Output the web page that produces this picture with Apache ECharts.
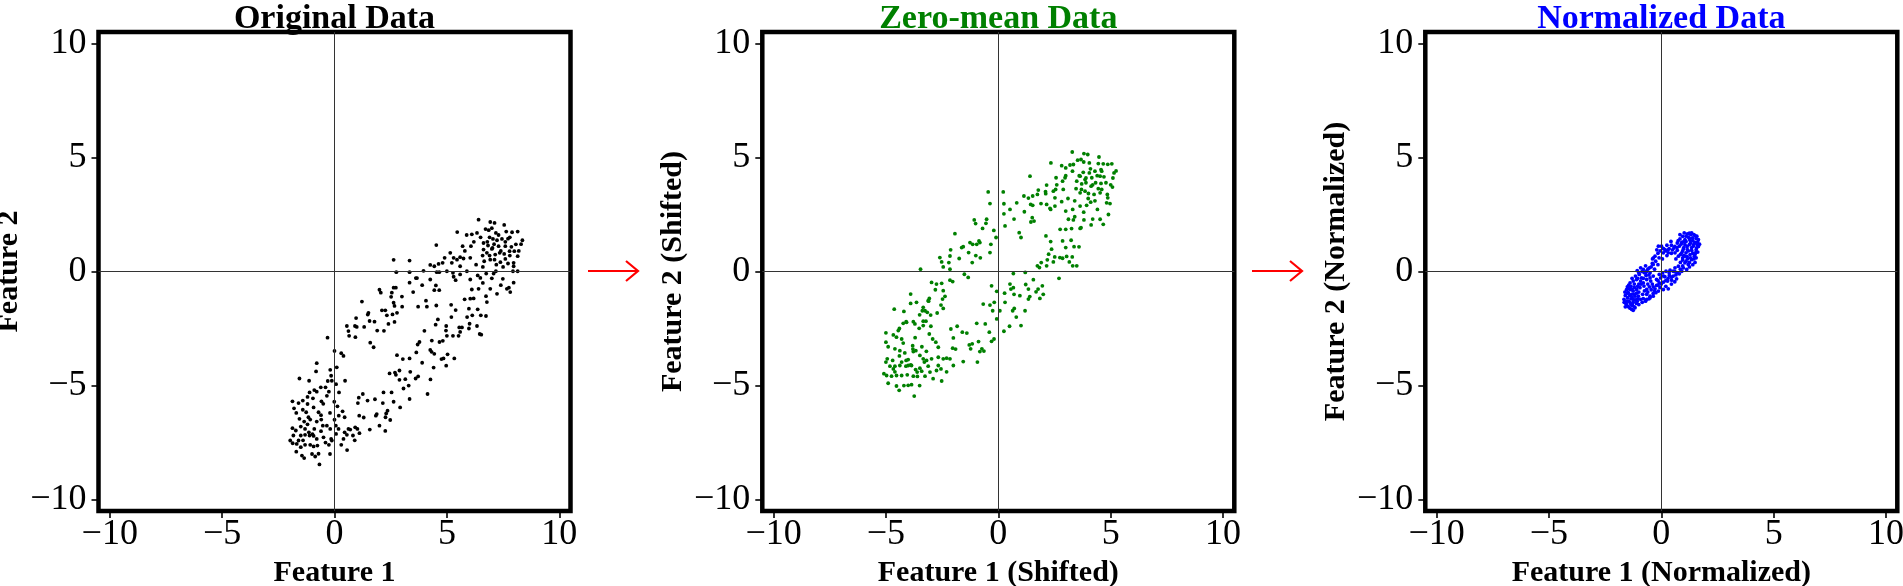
<!DOCTYPE html>
<html><head><meta charset="utf-8">
<script src="https://cdn.jsdelivr.net/npm/echarts@6/dist/echarts.min.js"></script>
<style>html,body{margin:0;padding:0;background:#fff;overflow:hidden}#c{width:1903px;height:586px}</style>
</head><body><div id="c"></div>
<script>
// ---------- data ----------
const tickValues = [-10, -5, 0, 5, 10];
const panelTitles = ['Original Data', 'Zero-mean Data', 'Normalized Data'];
const titleColors = ['#000000', '#008000', '#0000ff'];
const pointColors = ['#000000', '#008000', '#0000ff'];
const xNames = ['Feature 1', 'Feature 1 (Shifted)', 'Feature 1 (Normalized)'];
const yNames = ['Feature 2', 'Feature 2 (Shifted)', 'Feature 2 (Normalized)'];

const originalData = [
[6.41,2.27],[6.93,2.17],[7.12,2.13],[7.55,2.04],[6.72,1.86],[6.86,1.81],[6.34,1.69],[6.11,1.63],[5.88,1.60],[5.46,1.73],[7.18,1.69],[7.64,1.75],[7.90,1.72],[8.15,1.75],[8.36,1.37],[7.72,1.44],[7.45,1.43],[7.23,1.37],[7.05,1.43],[6.90,1.50],[6.63,1.25],[6.83,1.14],[7.03,1.03],[7.30,1.11],[7.60,1.11],[7.87,1.08],[8.07,1.19],[6.63,0.96],[6.78,0.82],[7.00,0.99],[7.15,0.74],[7.35,0.82],[7.55,0.77],[7.79,0.89],[8.00,0.89],[8.15,0.67],[6.59,0.70],[6.66,0.45],[6.93,0.52],[7.12,0.52],[7.38,0.41],[7.60,0.55],[7.97,0.38],[7.97,0.23],[8.15,0.01],[7.94,0.01],[7.72,0.35],[4.53,1.16],[6.07,1.11],[5.70,1.11],[5.74,0.57],[6.04,0.60],[5.59,0.63],[5.45,0.52],[5.22,0.38],[5.15,0.82],[4.90,0.60],[4.81,0.38],[4.63,0.33],[4.44,0.23],[4.26,0.29],[5.59,0.23],[5.89,0.01],[5.59,-0.13],[5.30,-0.23],[5.27,-0.06],[5.00,0.01],[4.66,-0.03],[4.55,-0.03],[3.96,0.03],[3.62,-0.29],[3.34,-0.49],[3.34,-0.03],[2.75,-0.03],[2.63,0.51],[3.34,0.48],[4.26,-0.35],[4.51,-0.61],[4.44,-0.82],[4.66,-0.82],[5.39,-0.38],[6.04,-0.35],[6.37,-0.17],[6.49,-0.28],[6.75,-0.09],[7.08,-0.09],[7.18,0.01],[7.49,-0.32],[7.97,-0.49],[7.67,-0.76],[7.82,-0.90],[7.76,-0.71],[7.23,-0.98],[6.93,-0.76],[6.74,-1.08],[6.41,-0.76],[6.11,-0.79],[6.04,-1.19],[5.79,-1.22],[6.19,-1.18],[6.78,-1.34],[5.98,-1.63],[6.37,-1.66],[6.51,-1.92],[6.74,-1.95],[6.13,-1.92],[5.19,-1.46],[5.39,-1.69],[4.53,-1.49],
[7.0,1.9],[7.3,1.6],[7.6,1.3],[7.8,1.5],[6.5,1.5],[6.8,1.3],[7.1,1.2],[7.4,0.9],[7.8,0.7],[6.9,0.7],[7.2,0.3],[7.5,0.2],[6.6,0.2],[8.2,0.9],[8.3,1.2],[6.2,1.3],[5.8,0.9],[5.3,0.6],[6.3,0.3],[7.0,-0.3],[7.4,-0.6],[6.6,-0.5],
[2.63,-0.71],[2.73,-0.71],[2.55,-0.93],[2.52,-1.11],[2.63,-1.37],[2.67,-1.51],[2.00,-0.80],[2.06,-0.93],[1.22,-1.32],[1.48,-1.89],[1.51,-1.81],[1.32,-2.43],[1.56,-2.17],[1.78,-2.20],[1.90,-2.59],[0.96,-2.04],[0.99,-2.43],[0.55,-2.39],[0.62,-2.61],[0.65,-2.82],[0.91,-2.39],[0.93,-2.88],[1.59,-3.12],[1.74,-3.32],[2.11,-1.70],[2.26,-1.70],[2.33,-1.92],[2.58,-1.88],[2.78,-1.81],[3.01,-1.54],[2.67,-2.21],[3.72,-1.54],[4.07,-1.28],[4.11,-1.54],[3.67,-0.29],
[2.2,-2.6],[2.4,-2.3],[3.0,-1.1],[3.5,-0.9],[3.9,-0.6],
[4.50,-2.33],[4.97,-2.39],[4.96,-2.59],[5.55,-2.45],[5.67,-2.45],[6.01,-2.29],[5.98,-2.50],[6.34,-2.39],[6.46,-2.74],[6.53,-2.77],[5.59,-2.65],[5.52,-2.82],[5.27,-2.82],[5.00,-2.82],[4.82,-3.04],[4.67,-3.09],[4.33,-3.03],[4.26,-3.44],[4.32,-3.52],[4.44,-3.61],[4.76,-3.84],[4.85,-3.81],[5.03,-3.63],[5.33,-3.81],[4.97,-4.13],[4.41,-4.21],[3.78,-3.09],[3.64,-3.55],[3.34,-3.81],[3.04,-3.84],[2.78,-3.67],[3.61,-4.69],[3.72,-4.60],[3.37,-4.40],[3.15,-4.72],[2.89,-4.34],[2.89,-4.75],[2.69,-4.43],[2.45,-4.47],[2.73,-4.53],[3.07,-5.13],[2.92,-5.96],[2.63,-5.71],[2.54,-5.30],[2.18,-5.30],[2.15,-5.77],[2.36,-6.10],[2.30,-6.22],[2.48,-6.51],[2.27,-6.39],[1.88,-6.25],[1.84,-6.32],[2.00,-6.76],[2.26,-6.99],[1.57,-6.93],[1.47,-5.66],[1.26,-5.37],[1.08,-5.53],[1.04,-5.77],[1.10,-6.32],[0.92,-6.83],[1.02,-6.90],[0.70,-6.93],[0.55,-7.16],[0.56,-7.83],[0.82,-7.19],[1.11,-7.09],[3.34,-5.59],[4.14,-5.37],[4.27,-4.73],
[3.7,-3.2],[4.0,-2.6],[4.6,-2.1],[5.2,-2.0],[3.9,-4.0],[3.3,-5.0],[5.9,-2.0],[1.3,-6.4],[1.8,-5.6],[0.9,-7.4],
[-0.31,-2.90],[0.00,-3.48],[0.30,-3.58],[0.47,-4.79],[0.07,-4.94],[-0.12,-4.79],[-0.19,-4.31],[-0.15,-4.57],[-0.79,-4.02],[-0.82,-4.38],[-1.13,-4.79],[-1.56,-4.69],[-1.11,-5.30],[-0.96,-5.56],[-0.79,-5.27],[-0.61,-5.08],[-0.40,-5.08],[-0.25,-5.27],[-0.34,-5.45],[-0.58,-5.69],[-0.71,-6.17],[-0.93,-5.96],[-1.20,-5.81],[-1.41,-5.66],[-1.60,-5.77],[-1.87,-5.69],[-1.41,-6.06],[-1.26,-6.17],[-1.16,-6.39],[-1.56,-6.46],[-1.35,-6.58],[-1.08,-6.49],[-0.79,-6.58],[-0.59,-6.49],[-0.52,-6.76],[-0.34,-6.76],[-0.19,-6.90],[-0.15,-7.34],[-0.25,-7.60],[-0.12,-7.41],[-0.49,-7.27],[-0.79,-7.34],[-0.98,-7.13],[-1.11,-7.19],[-1.31,-7.16],[-1.50,-7.19],[-1.83,-7.19],[-1.87,-6.87],[-1.72,-6.97],[-1.97,-7.41],[-1.86,-7.53],[-1.68,-7.56],[-1.50,-7.70],[-1.31,-7.60],[-1.08,-7.60],[-0.93,-7.67],[-0.76,-7.63],[-0.71,-7.99],[-0.86,-8.11],[-0.67,-8.46],[-1.45,-8.07],[-1.35,-8.18],[-0.93,-7.21],[-1.31,-6.90],[-1.14,-7.05],[-1.60,-7.41],[0.06,-6.76],[0.18,-6.90],[0.07,-7.12],[0.40,-7.34],[0.45,-7.05],[0.62,-6.90],[-0.01,-5.71],[0.13,-5.91],[0.36,-6.13],[0.45,-6.39],[0.19,-6.32],
[-1.7,-6.2],[-1.5,-6.8],[-1.2,-6.7],[-0.9,-6.9],[-0.6,-7.0],[-0.4,-7.5],[-0.2,-8.0],[-1.0,-8.0],[-1.7,-7.9],[-1.2,-5.5],[-0.9,-5.2],[-0.5,-5.8],[-0.2,-6.2],[0.0,-6.5],[0.3,-7.6],[-1.8,-6.0],[-1.4,-7.4],[-0.6,-6.3],[-0.3,-4.8],[0.1,-4.2],[0.4,-3.7],[0.2,-5.3]
];

const zeroMeanData = [
[3.29,5.24],[3.81,5.17],[3.98,5.13],[4.48,5.02],[2.34,4.76],[2.82,4.64],[3.00,4.54],[3.19,4.67],[3.34,4.69],[3.53,4.88],[3.68,4.91],[4.05,4.76],[4.45,4.73],[4.67,4.72],[4.87,4.70],[5.05,4.72],[5.24,4.41],[5.15,4.32],[4.57,4.47],[4.30,4.40],[4.05,4.32],[3.78,4.35],[3.64,4.18],[3.86,4.03],[4.16,4.11],[4.53,4.18],[4.70,4.15],[3.49,3.96],[3.71,3.84],[3.90,3.89],[4.13,3.74],[4.33,3.89],[4.57,3.86],[4.79,3.89],[5.08,3.70],[3.46,3.63],[3.64,3.45],[3.86,3.52],[4.01,3.42],[4.26,3.38],[4.45,3.63],[4.53,3.45],[4.85,3.38],[4.87,3.23],[4.97,2.98],[4.82,3.01],[1.41,4.18],[2.57,4.11],[2.97,4.11],[2.86,3.96],[2.89,3.60],[2.55,3.60],[2.45,3.52],[2.15,3.79],[2.11,3.41],[1.78,3.57],[1.74,3.38],[1.53,3.31],[1.34,3.22],[1.14,3.31],[2.52,3.23],[2.82,3.06],[2.52,2.87],[2.30,2.77],[2.15,2.94],[1.90,2.98],[1.53,2.90],[1.44,2.94],[0.82,3.01],[0.52,2.72],[0.25,2.53],[0.25,2.97],[-0.37,2.98],[-0.45,3.49],[0.22,3.49],[1.16,2.62],[1.51,2.36],[1.45,2.17],[1.59,2.21],[2.33,2.72],[3.00,2.65],[3.31,2.72],[3.64,2.87],[3.93,2.90],[4.11,3.04],[4.41,2.72],[4.90,2.50],[4.53,2.29],[4.67,2.07],[4.13,2.04],[3.81,2.26],[3.64,1.89],[3.34,2.26],[3.12,2.29],[3.00,1.85],[2.75,1.85],[3.26,1.88],[3.68,1.92],[2.86,1.34],[3.24,1.37],[3.37,1.09],[3.59,1.08],[3.00,1.05],[2.12,1.56],[2.33,1.31],[0.93,1.70],[1.01,1.49],
[3.8,4.8],[4.1,4.5],[4.4,4.2],[4.6,4.4],[3.3,4.4],[3.6,4.2],[3.9,4.1],[4.2,3.8],[4.6,3.6],[3.7,3.6],[4.0,3.2],[4.3,3.1],[3.4,3.1],[5.0,3.8],[5.1,4.1],[3.0,4.2],[2.6,3.8],[2.1,3.5],[3.1,3.2],[3.8,2.6],[4.2,2.3],[3.4,2.4],
[-0.10,1.49],[-0.33,1.19],[-0.37,0.83],[-0.52,2.29],[-0.55,2.11],[-0.70,1.89],[-0.82,1.27],[-1.07,2.26],[-1.01,2.10],[-0.86,1.34],[-0.96,1.19],[-1.14,1.19],[-1.26,1.27],[-1.32,0.83],[-1.56,1.09],[-1.63,1.05],[-1.74,0.57],[-1.93,1.66],[-2.12,0.95],[-2.15,0.68],[-2.20,0.39],[-2.60,0.61],[-2.52,0.42],[-2.45,0.20],[-2.15,0.10],[-3.46,0.10],[-2.97,-0.48],[-2.75,-0.55],[-2.52,-0.52],[-2.15,-0.38],[-2.03,-0.44],[-1.51,-0.12],[-1.34,-0.26],[-1.16,0.39],[-2.45,-0.84],[-2.37,-1.09],[-2.48,-1.21],[-2.55,-1.47],[-2.45,-1.62],[-3.12,-1.28],[-3.07,-1.18],[-3.34,-1.57],[-3.26,-1.72],[-3.16,-1.79],[-3.01,-1.91],[-2.72,-1.82],[-3.90,-0.99],[-3.90,-1.40],[-4.20,-1.75],[-4.63,-1.65],[-3.78,-2.20],[-3.71,-2.30],[-3.52,-2.49],[-3.34,-2.37],[-3.22,-2.18],[-3.07,-2.74],[-2.92,-2.96],[-2.78,-3.10],[-2.67,-3.32],[-4.08,-2.23],[-4.23,-2.27],[-4.45,-2.59],[-4.67,-2.78],[-5.00,-2.69],[-4.53,-2.88],[-4.30,-2.96],[-4.23,-3.14],[-4.60,-3.39],[-4.38,-3.47],[-4.16,-3.57],[-3.81,-3.25],[-3.78,-3.51],[-3.67,-3.47],[-3.49,-3.68],[-3.34,-3.83],[-3.29,-3.97],[-3.19,-3.90],[-2.97,-3.83],[-2.67,-3.76],[-2.45,-3.83],[-2.30,-3.80],[-2.15,-3.83],[-2.00,-4.12],[-1.56,-3.95],[-2.55,-4.27],[-2.75,-4.34],[-2.67,-4.12],[-3.12,-4.15],[-3.49,-4.24],[-3.68,-4.30],[-3.86,-4.12],[-4.01,-4.12],[-4.11,-4.15],[-4.38,-4.12],[-4.60,-4.15],[-4.94,-3.83],[-5.00,-3.97],[-4.82,-4.15],[-4.67,-4.27],[-5.09,-4.48],[-4.97,-4.56],[-4.75,-4.59],[-4.53,-4.56],[-4.30,-4.56],[-4.05,-4.53],[-3.78,-4.59],[-3.61,-4.41],[-3.41,-4.37],[-3.26,-4.59],[-3.04,-4.41],[-4.30,-3.97],[-4.01,-3.86],[-4.53,-5.02],[-4.41,-5.21],[-4.01,-4.99],[-3.86,-4.96],[-3.74,-5.46],[-2.52,-4.80],[-3.34,-2.18],[-3.64,-1.35],[-3.38,-1.72],
[-4.9,-3.3],[-4.7,-3.9],[-4.4,-3.7],[-4.1,-3.9],[-3.9,-4.1],[-3.6,-4.6],[-3.5,-5.0],[-4.2,-5.0],[-4.9,-4.9],[-4.4,-2.5],[-4.1,-2.2],[-3.7,-2.9],[-3.4,-3.3],[-3.2,-3.5],[-2.9,-4.7],[-5.0,-3.1],[-4.6,-4.4],[-3.8,-3.4],[-3.5,-1.9],[-3.1,-1.3],[-2.8,-0.8],[-3.0,-2.4],
[0.67,-0.09],[1.20,-0.04],[0.52,-0.55],[0.56,-0.77],[0.28,-0.95],[-0.07,-0.87],[-0.30,-0.63],[-0.18,-1.35],[-0.37,-1.47],[-0.25,-1.72],[-0.67,-1.43],[0.07,-1.72],[0.30,-1.35],[0.64,-1.72],[0.71,-1.62],[-0.07,-2.08],[0.25,-2.62],[-0.19,-2.96],[-0.30,-3.06],[-0.40,-2.66],[-0.58,-2.30],[-0.96,-2.27],[-0.88,-3.07],[-0.73,-3.39],[-0.82,-3.51],[-0.64,-3.49],[-1.16,-3.17],[-1.29,-3.22],[-1.23,-3.39],[-0.93,-3.97],[-2.11,-2.52],[-1.83,-2.40],[-1.60,-2.66],[-2.00,-2.91],[-2.03,-3.36],[1.19,-1.72],[1.01,-2.37],[1.34,-1.21],[1.85,-1.18],[1.96,-0.63],[1.77,-0.77],[1.68,-0.89],[1.22,-0.57],[1.56,-0.36],[1.83,0.17],[1.91,0.39],[1.74,0.25],[2.15,0.25],[2.18,0.51],[2.45,0.42],[2.74,0.61],[2.86,0.58],[3.04,0.66],[3.16,0.42],[3.31,0.25],[3.49,0.25],[3.29,0.64],[2.51,0.64],[2.37,0.98],[2.24,0.76],[0.67,-0.71],[0.96,-1.06],[1.34,-0.77],
[-1.0,0.7],[-0.8,0.6],[-0.2,1.8],[0.3,2.0],[0.7,2.3],[0.5,-2.4],[0.8,-2.0],[1.4,-1.1],[2.0,-1.0],[0.7,-1.0],[2.7,-0.3],[-1.9,-3.4],[-1.4,-2.7],[-2.3,-4.4]
];

const normalizedData = [
[1.02,1.69],[1.16,1.65],[1.31,1.62],[1.50,1.57],[1.65,1.40],[1.39,1.47],[1.20,1.51],[0.95,1.54],[0.83,1.43],[1.10,1.32],[1.28,1.37],[1.50,1.28],[1.60,1.18],[1.42,1.11],[1.25,1.18],[1.05,1.18],[0.91,1.28],[0.71,1.25],[0.80,1.11],[0.98,0.99],[1.16,0.96],[1.35,0.93],[1.54,0.84],[1.47,0.67],[1.28,0.74],[1.10,0.82],[0.91,0.82],[0.71,0.93],[0.56,1.03],[0.43,1.32],[0.61,0.82],[0.76,0.67],[0.95,0.60],[1.16,0.55],[1.35,0.52],[1.20,0.31],[1.05,0.38],[0.31,0.82],[0.16,0.96],[0.01,1.11],[-0.13,1.11],[0.09,0.82],[0.76,0.23],[0.98,0.16],[1.13,0.09],[0.91,0.01],[0.71,-0.06],[0.53,0.01],[0.39,0.06],[0.21,0.01],[0.06,-0.06],[-0.09,-0.13],[-0.03,-0.28],[0.16,-0.23],[0.36,-0.17],[0.53,-0.20],[0.68,-0.32],[0.46,-0.38],[0.28,-0.42],[0.09,-0.47],[-0.09,-0.50],[-0.21,-0.35],[-0.36,-0.20],[-0.50,-0.06],[-0.65,0.01],[-0.80,0.09],[-0.92,0.16],[-1.07,0.04],[-0.98,-0.13],[-0.88,-0.28],[-0.80,-0.50],[-0.92,-0.42],[-1.10,-0.35],[-1.25,-0.42],[-1.39,-0.50],[-1.51,-0.67],[-1.39,-0.79],[-1.25,-0.86],[-1.10,-0.79],[-0.95,-0.71],[-0.77,-0.64],[-0.65,-0.79],[-0.53,-0.67],[-0.36,-0.67],[-0.21,-0.61],[-0.06,-0.71],[0.09,-0.79],[0.31,-0.76],[-0.13,-0.86],[-0.36,-0.96],[-0.50,-1.08],[-0.65,-1.00],[-0.83,-1.00],[-1.02,-1.08],[-1.17,-1.08],[-1.32,-1.00],[-1.47,-0.93],[-1.62,-0.90],[-1.66,-1.22],[-1.54,-1.30],[-1.39,-1.37],[-1.28,-1.49],[-1.17,-1.59],[-1.32,-1.66],[-1.47,-1.54],[-1.57,-1.40],[-1.25,-1.22],[-1.07,-1.30],[-0.92,-1.22],[-0.80,-1.19],[-0.65,-1.22],[-0.50,-1.15],[-0.36,-1.08],[-0.24,-0.93],[-0.28,-0.76],[-0.47,-0.42],[-0.65,-0.35],[-0.50,-0.28],[-0.68,-0.17],[-0.53,0.16],[-0.36,0.31],[-0.39,0.55],[-0.28,0.67],[0.61,0.16],[1.05,0.67],[1.57,1.03],[1.35,1.69],[0.83,1.62],
[1.10,1.55],[1.25,1.45],[1.40,1.35],[1.55,1.45],[1.62,1.30],[1.45,1.20],[1.30,1.25],[1.15,1.10],[1.00,1.05],[0.88,1.20],[0.75,1.35],[1.05,1.40],[1.20,0.90],[1.40,0.80],[1.55,0.95],[1.65,1.10],[1.35,1.05],[0.95,0.90],[0.85,0.75],[1.00,0.70],[1.15,0.65],[1.30,0.60],[1.45,0.55],[1.25,0.40],[1.10,0.45],[0.95,0.50],[0.60,1.10],[0.50,0.95],[0.35,1.00],[0.45,1.15],[0.25,1.15],[0.20,0.90],[0.10,1.00],[-0.05,0.90],[-0.15,0.80],[-0.10,0.60],[-0.25,0.45],[-0.40,0.35],[-0.45,0.20],[-0.60,0.10],[-0.70,0.25],[-0.75,-0.05],[-0.85,0.00],[-1.00,-0.05],[-1.15,-0.20],[-1.05,-0.30],[-1.20,-0.55],[-1.30,-0.30],[-1.45,-0.60],[-1.35,-0.65],
[1.40,0.30],[1.55,0.60],[1.50,0.40],[0.85,0.10],[0.80,-0.10],[0.65,-0.15],[0.45,-0.25],[0.30,-0.30],[0.20,-0.40],[0.00,-0.55],[-0.15,-0.60],[-0.30,-0.85],[-0.45,-0.80],[-0.60,-0.90],[-0.75,-0.85],[-0.55,-1.20],[-0.70,-1.30],[-0.85,-1.35],[-1.00,-1.45],[-1.10,-1.40],[0.45,-0.55],[0.20,-0.65],[0.60,-0.45],
[-1.60,-1.05],[-1.50,-1.15],[-1.40,-1.05],[-1.30,-1.15],[-1.20,-1.00],[-1.10,-0.95],[-1.00,-0.90],[-1.45,-1.30],[-1.35,-1.45],[-1.25,-1.35],[-1.15,-1.25],[-1.05,-1.20],[-1.40,-1.60],[-1.25,-1.70],[-1.20,-1.55],[-1.55,-1.45],[-1.65,-1.35],[-1.55,-0.80],[-1.45,-0.75],[-1.30,-0.80],[-1.20,-0.70],[-1.05,-0.65],[-0.90,-0.55],[-1.50,-0.95],[-1.60,-1.55],[-1.35,-1.20],
[-0.30,0.10],[-0.15,0.30],[0.05,0.55],[0.25,0.70],[0.45,0.80],[0.65,0.55],[0.85,0.40],[0.60,0.00],[0.35,-0.05],[0.10,-0.20],[-0.15,-0.40],[-0.40,-0.55],[-0.60,-0.55],[-0.80,-0.30],[-1.00,-0.55],[-0.70,-0.05],[-0.55,-0.15],[1.50,0.75],[1.62,0.85],[1.70,1.20],[1.58,1.55],[1.45,1.62],[1.25,1.68],[0.98,1.30],[0.70,1.05],[0.30,0.95],[-0.35,0.60],[-0.20,0.95],[0.95,0.25],[1.25,0.20]
];

// ---------- layout ----------
const FONT = "'Liberation Serif','Times New Roman',serif";
const gridLefts = [98.5, 762.3, 1425.3];
const gridTop = 32, gridW = 472, gridH = 479;
const fmt = v => (v < 0 ? '\u2212' + Math.abs(v) : String(v));
const datasets = [originalData, zeroMeanData, normalizedData];

const grid = [], xAxis = [], yAxis = [], series = [], graphic = [];
for (let i = 0; i < 3; i++) {
  grid.push({left: gridLefts[i], top: gridTop, width: gridW, height: gridH,
    show: true, borderColor: '#000', borderWidth: 4.5, backgroundColor: 'transparent',
    containLabel: false, outerBoundsMode: 'none'});
  const common = {
    type: 'value', gridIndex: i, min: -10.5, max: 10.5,
    axisLine: {show: false, onZero: false},
    splitLine: {show: false},
    axisTick: {show: true, length: 7, lineStyle: {color: '#000', width: 1.6}, customValues: tickValues},
    axisLabel: {customValues: tickValues, formatter: fmt, color: '#000', fontFamily: FONT, fontSize: 36},
    nameLocation: 'middle',
    nameTextStyle: {fontFamily: FONT, fontSize: 30, fontWeight: 'bold', color: '#000'}
  };
  xAxis.push(Object.assign({}, common, {position: 'bottom', name: xNames[i], nameGap: 36,
    axisLabel: Object.assign({}, common.axisLabel, {margin: 6})}));
  yAxis.push(Object.assign({}, common, {position: 'left', name: yNames[i], nameGap: 74,
    axisLabel: Object.assign({}, common.axisLabel, {margin: 12})}));
  series.push({
    type: 'scatter', xAxisIndex: i, yAxisIndex: i, data: datasets[i],
    symbolSize: 3.8, itemStyle: {color: pointColors[i], opacity: 1},
    markLine: {silent: true, symbol: ['none', 'none'], label: {show: false},
      lineStyle: {color: '#333', width: 1, type: 'solid'},
      data: [{xAxis: 0}, {yAxis: 0}]}
  });
  graphic.push({type: 'text', x: gridLefts[i] + gridW / 2, y: 19,
    style: {text: panelTitles[i], fill: titleColors[i], font: "bold 34px " + FONT, align: 'center', verticalAlign: 'middle'}});
}
// arrows between panels
[588, 1252].forEach(x0 => {
  graphic.push({type: 'line', shape: {x1: x0, y1: 271, x2: x0 + 50, y2: 271}, style: {stroke: '#ff0000', lineWidth: 2.2}});
  graphic.push({type: 'polyline', shape: {points: [[x0 + 38, 261], [x0 + 50, 271], [x0 + 38, 281]]}, style: {stroke: '#ff0000', lineWidth: 2.2, fill: null}});
});

const chart = echarts.init(document.getElementById('c'), null, {renderer: 'canvas'});
chart.setOption({animation: false, backgroundColor: '#fff', grid, xAxis, yAxis, series, graphic});
</script></body></html>
